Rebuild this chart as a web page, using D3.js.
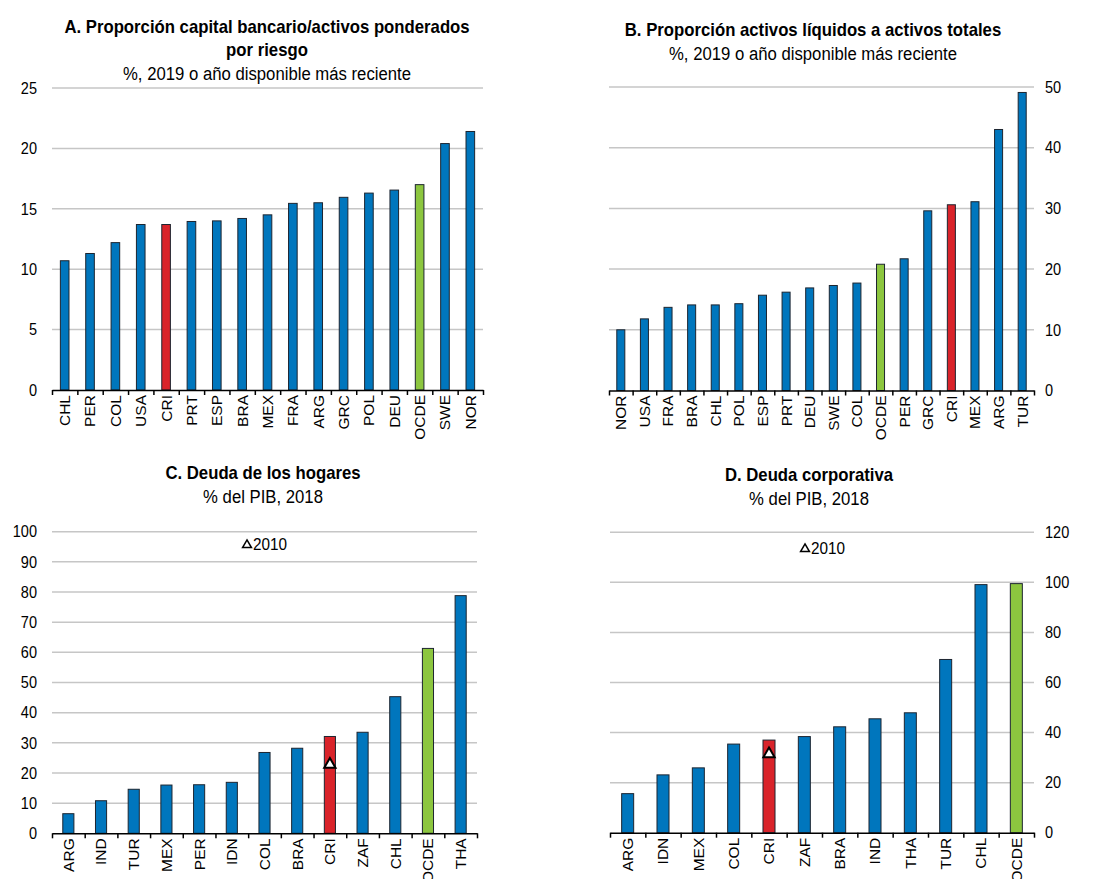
<!DOCTYPE html>
<html>
<head>
<meta charset="utf-8">
<script src="https://cdn.jsdelivr.net/npm/d3@7/dist/d3.min.js"></script>
<style>
    body { margin: 0; background: #fff; }
    svg text { font-family: "Liberation Sans", Arial, sans-serif; fill: #000; }
</style>
</head>
<body>
<svg id="chart" width="1104" height="879"></svg>
<script>
// A. capital / risk weighted assets
var catA = ["CHL", "PER", "COL", "USA", "CRI", "PRT", "ESP", "BRA", "MEX", "FRA", "ARG", "GRC", "POL", "DEU", "OCDE", "SWE", "NOR"];
var valA = [10.7, 11.3, 12.2, 13.7, 13.7, 13.95, 14.0, 14.2, 14.5, 15.45, 15.5, 15.95, 16.3, 16.55, 17.0, 20.4, 21.4];

// B. liquid assets / total assets
var catB = ["NOR", "USA", "FRA", "BRA", "CHL", "POL", "ESP", "PRT", "DEU", "SWE", "COL", "OCDE", "PER", "GRC", "CRI", "MEX", "ARG", "TUR"];
var valB = [10.0, 11.8, 13.7, 14.1, 14.1, 14.3, 15.7, 16.2, 16.9, 17.3, 17.7, 20.8, 21.7, 29.6, 30.6, 31.1, 43.0, 49.1];

// C. household debt
var catC = ["ARG", "IND", "TUR", "MEX", "PER", "IDN", "COL", "BRA", "CRI", "ZAF", "CHL", "OCDE", "THA"];
var valC = [6.5, 10.8, 14.6, 16.0, 16.1, 16.9, 26.8, 28.2, 32.1, 33.5, 45.3, 61.3, 78.8];

// D. corporate debt
var catD = ["ARG", "IDN", "MEX", "COL", "CRI", "ZAF", "BRA", "IND", "THA", "TUR", "CHL", "OCDE"];
var valD = [15.6, 23.1, 25.9, 35.4, 37.0, 38.4, 42.3, 45.5, 47.9, 69.2, 99.1, 99.5];

// 2010 markers (only CRI)
var mark2010C = [{ cat: "CRI", value: 22.8 }];
var mark2010D = [{ cat: "CRI", value: 31.4 }];

var colors = { base: "#0076bd", CRI: "#d9232a", OCDE: "#8cc63f" };

var svg = d3.select("#chart");

var panels = [
    { title: ["A. Proporción capital bancario/activos ponderados", "por riesgo"], sub: "%, 2019 o año disponible más reciente",
      cats: catA, vals: valA, max: 25, step: 5, side: "left",
      x0: 52, x1: 483, y0: 390, y1: 88, tx: 267, ty: 27 },
    { title: ["B. Proporción activos líquidos a activos totales"], sub: "%, 2019 o año disponible más reciente",
      cats: catB, vals: valB, max: 50, step: 10, side: "right",
      x0: 609, x1: 1034, y0: 390.5, y1: 87, tx: 813, ty: 30 },
    { title: ["C. Deuda de los hogares"], sub: "% del PIB, 2018",
      cats: catC, vals: valC, max: 100, step: 10, side: "left", marks: mark2010C, lx: 247, ly: 544,
      x0: 52, x1: 477, y0: 833.3, y1: 531.7, tx: 263, ty: 473 },
    { title: ["D. Deuda corporativa"], sub: "% del PIB, 2018",
      cats: catD, vals: valD, max: 120, step: 20, side: "right", marks: mark2010D, lx: 805, ly: 548,
      x0: 610, x1: 1034, y0: 832.7, y1: 532.3, tx: 809, ty: 475 }
];

// narrow-looking text: bigger font squeezed horizontally
function squeezed(g, x, y, sx) {
    return g.append("text")
        .attr("transform", "translate(" + x + "," + y + ") scale(" + sx + ",1)");
}

panels.forEach(function(p) {
    var g = svg.append("g");

    var x = d3.scaleBand().domain(p.cats).range([p.x0, p.x1]).padding(0);
    var y = d3.scaleLinear().domain([0, p.max]).range([p.y0, p.y1]);
    var barW = x.bandwidth() * 0.34;

    // titles
    p.title.forEach(function(t, i) {
        squeezed(g, p.tx, p.ty + i * 23, 0.92)
            .attr("dy", "0.35em")
            .attr("text-anchor", "middle")
            .style("font-weight", "bold")
            .style("font-size", "18.2px")
            .text(t);
    });
    squeezed(g, p.tx, p.ty + p.title.length * 23 + 1, 0.95)
        .attr("dy", "0.35em")
        .attr("text-anchor", "middle")
        .style("font-size", "17.6px")
        .text(p.sub);

    // grid lines
    var ticks = d3.range(p.step, p.max + 0.001, p.step);
    g.selectAll("line.grid").data(ticks).enter().append("line")
        .attr("class", "grid")
        .attr("x1", p.x0).attr("x2", p.x1)
        .attr("y1", function(d) { return y(d); })
        .attr("y2", function(d) { return y(d); })
        .attr("stroke", "#c6c6c6")
        .attr("stroke-width", 1.5);

    // value axis (labels only)
    var pad = p.side === "left" ? -15 : 11;
    var yAxis = (p.side === "left" ? d3.axisLeft(y) : d3.axisRight(y))
        .tickValues(d3.range(0, p.max + 0.001, p.step))
        .tickSize(0)
        .tickFormat(d3.format("d"));
    var ya = g.append("g")
        .attr("transform", "translate(" + (p.side === "left" ? p.x0 : p.x1) + ",0)")
        .call(yAxis);
    ya.select(".domain").remove();
    ya.selectAll("text")
        .style("font-size", "16.5px")
        .attr("fill", "#000")
        .attr("x", 0)
        .attr("transform", "translate(" + pad + ",0) scale(0.88,1)");

    // bars
    g.selectAll("rect.bar").data(p.vals).enter().append("rect")
        .attr("class", "bar")
        .attr("x", function(d, i) { return x(p.cats[i]) + (x.bandwidth() - barW) / 2; })
        .attr("y", function(d) { return y(d); })
        .attr("width", barW)
        .attr("height", function(d) { return y(0) - y(d); })
        .attr("fill", function(d, i) { return colors[p.cats[i]] || colors.base; })
        .attr("stroke", "#1d2530")
        .attr("stroke-width", 1);

    // baseline with tick marks at band edges
    var edge = d3.scaleLinear().domain([0, p.cats.length]).range([p.x0, p.x1]);
    var xa = g.append("g")
        .attr("transform", "translate(0," + y(0) + ")")
        .call(d3.axisBottom(edge).tickValues(d3.range(p.cats.length + 1)).tickFormat("").tickSize(5).tickSizeOuter(0));
    xa.select(".domain").attr("stroke", "#000").attr("stroke-width", 1.5);
    xa.selectAll(".tick line").attr("stroke", "#000").attr("stroke-width", 1.5);

    // category labels
    var xl = g.append("g")
        .attr("transform", "translate(0," + y(0) + ")")
        .call(d3.axisBottom(x).tickSize(0).tickPadding(0));
    xl.select(".domain").remove();
    xl.selectAll("text")
        .style("font-size", "15.5px")
        .attr("fill", "#000")
        .attr("text-anchor", "end")
        .attr("dy", "0.35em")
        .attr("transform", "translate(0,5) rotate(-90)")
        .attr("x", 0).attr("y", 0);

    // 2010 markers and legend
    if (p.marks) {
        var tri = d3.symbol().type(d3.symbolTriangle).size(55);
        g.selectAll("path.m2010").data(p.marks).enter().append("path")
            .attr("class", "m2010")
            .attr("d", tri)
            .attr("transform", function(d) {
                return "translate(" + (x(d.cat) + x.bandwidth() / 2) + "," + y(d.value) + ")";
            })
            .attr("fill", "#fff")
            .attr("stroke", "#000")
            .attr("stroke-width", 2);

        g.append("path")
            .attr("d", d3.symbol().type(d3.symbolTriangle).size(34))
            .attr("transform", "translate(" + p.lx + "," + (p.ly + 1) + ")")
            .attr("fill", "#fff")
            .attr("stroke", "#000")
            .attr("stroke-width", 1.5);
        squeezed(g, p.lx + 6, p.ly, 0.9)
            .attr("dy", "0.35em")
            .style("font-size", "17px")
            .text("2010");
    }
});
</script>
</body>
</html>
